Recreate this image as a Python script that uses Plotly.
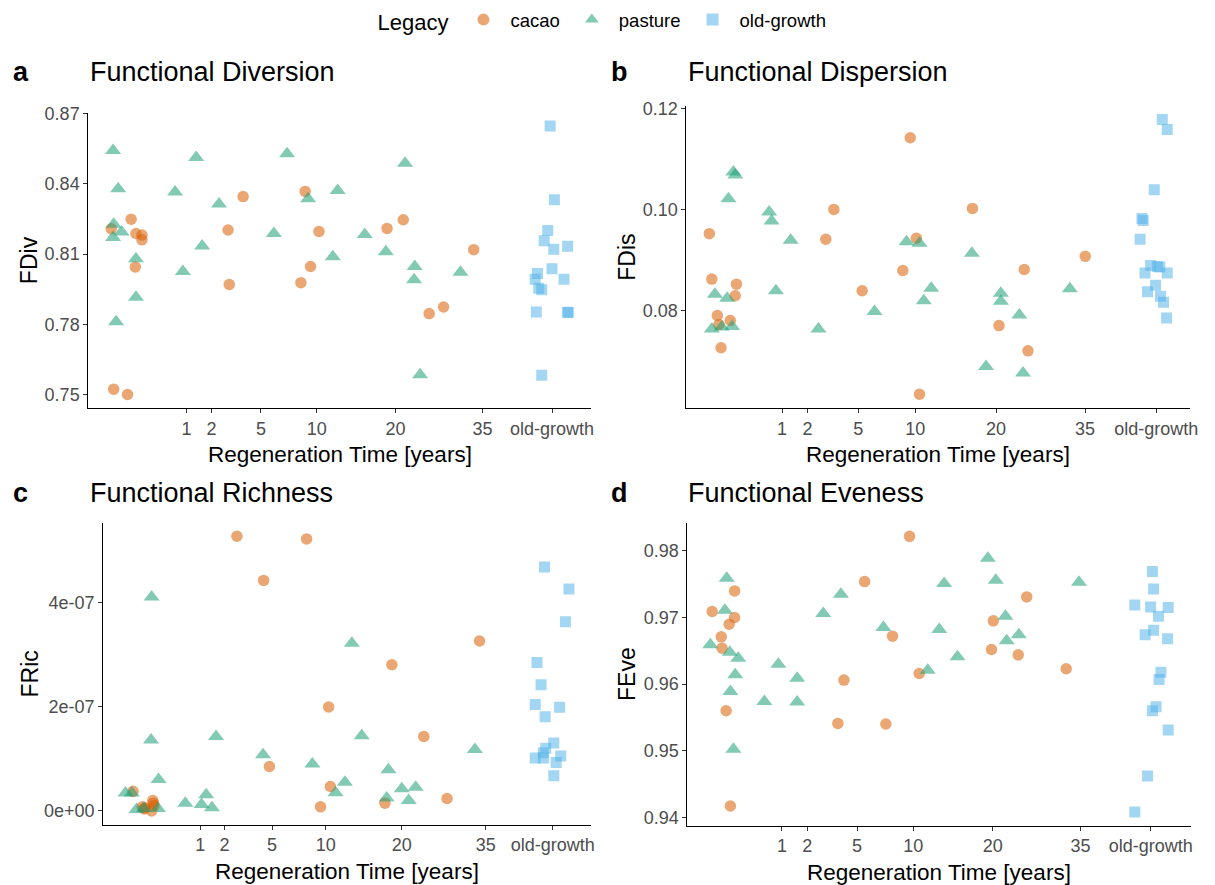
import numpy as np
import plotly.graph_objects as go

# x values are positions on the square-root time axis (sqrt(years), jittered as in the source);
# old-growth forests are placed at 50 years.
tick_years = [1, 2, 5, 10, 20, 35, 50]
tick_text = ["1", "2", "5", "10", "20", "35", "old-growth"]

# ---------------- Panel a: Functional Diversion ----------------
fdiv_cacao_x = [-0.25, 0.08, 0.16, 0.26, 0.26, 0.15, -0.21, 0.02, 1.69, 1.71, 1.94, 2.90, 2.97, 3.06, 3.20, 4.33, 4.60, 5.03, 5.27, 5.77]
fdiv_cacao_y = [0.8208, 0.8249, 0.8188, 0.8182, 0.8161, 0.8045, 0.7523, 0.7500, 0.8203, 0.7970, 0.8346, 0.7978, 0.8368, 0.8047, 0.8197, 0.8210, 0.8247, 0.7846, 0.7874, 0.8119]
fdiv_pasture_x = [-0.22, -0.135, -0.21, -0.08, -0.22, 0.16, 0.16, -0.17, 0.81, 0.94, 1.16, 1.26, 1.54, 2.45, 2.67, 3.02, 3.51, 3.43, 3.96, 4.31, 4.63, 4.79, 4.78, 4.88, 5.55]
fdiv_pasture_y = [0.8543, 0.8379, 0.8228, 0.8195, 0.8171, 0.8080, 0.7916, 0.7811, 0.8366, 0.8026, 0.8513, 0.8135, 0.8314, 0.8188, 0.8529, 0.8337, 0.8372, 0.8089, 0.8184, 0.8110, 0.8488, 0.8047, 0.7990, 0.7585, 0.8023]
fdiv_old_x = [7.04, 7.11, 7.00, 6.94, 7.10, 7.33, 7.07, 6.83, 6.79, 7.27, 6.85, 6.90, 6.81, 7.33, 7.34, 6.90]
fdiv_old_y = [0.8647, 0.8332, 0.8201, 0.8157, 0.8121, 0.8134, 0.8037, 0.8017, 0.7993, 0.7993, 0.7954, 0.7948, 0.7853, 0.7852, 0.7851, 0.7582]
fdiv_ticks = [0.75, 0.78, 0.81, 0.84, 0.87]
fdiv_ticktext = ["0.75", "0.78", "0.81", "0.84", "0.87"]

# ---------------- Panel b: Functional Dispersion ----------------
fdis_cacao_x = [-0.18, -0.14, -0.05, -0.025, 0.01, 0.16, 0.26, 0.24, 1.71, 1.84, 2.30, 2.96, 3.08, 3.18, 3.23, 4.09, 4.52, 4.93, 4.99, 5.92]
fdis_cacao_y = [0.0953, 0.0863, 0.0791, 0.0773, 0.0727, 0.0781, 0.0853, 0.0830, 0.0942, 0.1001, 0.0840, 0.0880, 0.1143, 0.0944, 0.0635, 0.1003, 0.0771, 0.0882, 0.0721, 0.0908]
fdis_pasture_x = [0.21, 0.24, 0.13, -0.09, 0.11, -0.14, 0.02, 0.19, 0.79, 0.83, 0.90, 1.14, 1.59, 2.50, 3.02, 3.23, 3.30, 3.42, 4.08, 4.31, 4.55, 4.55, 4.85, 4.91, 5.67]
fdis_pasture_y = [0.1075, 0.1069, 0.1022, 0.0833, 0.0825, 0.0764, 0.0768, 0.0769, 0.0996, 0.0978, 0.0840, 0.0940, 0.0764, 0.0799, 0.0937, 0.0934, 0.0820, 0.0845, 0.0914, 0.0690, 0.0835, 0.0819, 0.0792, 0.0677, 0.0844]
fdis_old_x = [7.17, 7.25, 7.04, 6.84, 6.86, 6.81, 6.89, 6.98, 7.09, 7.13, 7.25, 7.06, 6.93, 7.14, 7.19, 7.24]
fdis_old_y = [0.1179, 0.1159, 0.1040, 0.0983, 0.0979, 0.0942, 0.0875, 0.0890, 0.0888, 0.0887, 0.0875, 0.0851, 0.0838, 0.0829, 0.0817, 0.0786]
fdis_ticks = [0.08, 0.10, 0.12]
fdis_ticktext = ["0.08", "0.10", "0.12"]

# ---------------- Panel c: Functional Richness ----------------
fric_cacao_x = [-0.16, 0.00, 0.05, 0.18, 0.19, 0.16, 0.03, 0.20, 1.63, 2.83, 2.09, 2.19, 3.21, 3.24, 3.07, 4.18, 4.30, 4.85, 5.25, 5.81]
fric_cacao_y = [0.377e-07, 0.08e-07, 0.06e-07, 0.20e-07, 0.15e-07, 0.0, 0.04e-07, 0.10e-07, 5.275e-07, 5.225e-07, 4.427e-07, 0.854e-07, 1.997e-07, 0.471e-07, 0.08e-07, 0.15e-07, 2.807e-07, 1.432e-07, 0.24e-07, 3.265e-07]
fric_pasture_x = [-0.29, -0.18, -0.10, 0.03, 0.16, 0.15, 0.28, 0.27, 0.74, 1.02, 1.10, 1.20, 1.27, 2.08, 2.93, 3.33, 3.49, 3.61, 3.78, 4.21, 4.24, 4.47, 4.59, 4.71, 5.73]
fric_pasture_y = [0.345e-07, 0.345e-07, 0.03e-07, 0.05e-07, 4.107e-07, 1.363e-07, 0.603e-07, 0.05e-07, 0.15e-07, 0.126e-07, 0.31e-07, 0.063e-07, 1.43e-07, 1.08e-07, 0.904e-07, 0.35e-07, 0.553e-07, 3.22e-07, 1.444e-07, 0.25e-07, 0.79e-07, 0.427e-07, 0.20e-07, 0.458e-07, 1.18e-07]
fric_old_x = [6.93, 7.35, 7.29, 6.80, 6.87, 6.77, 7.19, 6.94, 7.09, 6.95, 6.91, 6.77, 6.91, 7.21, 7.13, 7.09]
fric_old_y = [4.685e-07, 4.264e-07, 3.636e-07, 2.851e-07, 2.424e-07, 2.047e-07, 1.99e-07, 1.809e-07, 1.306e-07, 1.206e-07, 1.118e-07, 1.017e-07, 1.017e-07, 1.055e-07, 0.929e-07, 0.678e-07]
fric_ticks = [0.0, 2e-07, 4e-07]
fric_ticktext = ["0e+00", "2e-07", "4e-07"]

# ---------------- Panel d: Functional Eveness ----------------
feve_cacao_x = [-0.15, 0.00, 0.013, 0.22, 0.22, 0.13, 0.08, 0.15, 1.92, 2.02, 2.36, 2.71, 2.82, 3.10, 3.26, 4.45, 4.48, 4.89, 5.03, 5.68]
feve_cacao_y = [0.9709, 0.9671, 0.9654, 0.9740, 0.9700, 0.9690, 0.9560, 0.9417, 0.9541, 0.9606, 0.9754, 0.9540, 0.9672, 0.9822, 0.9616, 0.9652, 0.9695, 0.9644, 0.9731, 0.9623]
feve_pasture_x = [-0.18, 0.09, 0.06, 0.14, 0.28, 0.23, 0.15, 0.20, 0.71, 0.94, 1.25, 1.25, 1.68, 1.97, 2.67, 3.40, 3.59, 3.67, 3.89, 4.39, 4.52, 4.68, 4.70, 4.90, 5.89]
feve_pasture_y = [0.9659, 0.9759, 0.9711, 0.9648, 0.9639, 0.9614, 0.9589, 0.9502, 0.9574, 0.9630, 0.9609, 0.9573, 0.9706, 0.9735, 0.9685, 0.9621, 0.9682, 0.9751, 0.9641, 0.9789, 0.9756, 0.9702, 0.9665, 0.9674, 0.9753]
feve_old_x = [6.81, 7.10, 7.12, 7.07, 7.36, 7.20, 6.98, 7.12, 7.35, 7.24, 7.21, 7.16, 7.10, 7.36, 7.02, 6.81]
feve_old_y = [0.9719, 0.9769, 0.9743, 0.9716, 0.9715, 0.9702, 0.9674, 0.9681, 0.9668, 0.9618, 0.9607, 0.9566, 0.9560, 0.9531, 0.9462, 0.9408]
feve_ticks = [0.94, 0.95, 0.96, 0.97, 0.98]
feve_ticktext = ["0.94", "0.95", "0.96", "0.97", "0.98"]

legacy_names = ["cacao", "pasture", "old-growth"]
legacy_colors = {"cacao": "#D95F02", "pasture": "#1B9E77", "old-growth": "#56B4E9"}
legacy_symbols = {"cacao": "circle", "pasture": "triangle-up", "old-growth": "square"}
legacy_sizes = {"cacao": 11.5, "pasture": 14, "old-growth": 11}

panels = [
    dict(letter="a", title="Functional Diversion", ylab="FDiv",
         data={"cacao": (fdiv_cacao_x, fdiv_cacao_y), "pasture": (fdiv_pasture_x, fdiv_pasture_y), "old-growth": (fdiv_old_x, fdiv_old_y)},
         yt=fdiv_ticks, ytt=fdiv_ticktext, px=(89, 595), py=(105, 404), ty=64),
    dict(letter="b", title="Functional Dispersion", ylab="FDis",
         data={"cacao": (fdis_cacao_x, fdis_cacao_y), "pasture": (fdis_pasture_x, fdis_pasture_y), "old-growth": (fdis_old_x, fdis_old_y)},
         yt=fdis_ticks, ytt=fdis_ticktext, px=(691, 1198), py=(98, 404), ty=64),
    dict(letter="c", title="Functional Richness", ylab="FRic",
         data={"cacao": (fric_cacao_x, fric_cacao_y), "pasture": (fric_pasture_x, fric_pasture_y), "old-growth": (fric_old_x, fric_old_y)},
         yt=fric_ticks, ytt=fric_ticktext, px=(104, 595), py=(520, 826), ty=490),
    dict(letter="d", title="Functional Eveness", ylab="FEve",
         data={"cacao": (feve_cacao_x, feve_cacao_y), "pasture": (feve_pasture_x, feve_pasture_y), "old-growth": (feve_old_x, feve_old_y)},
         yt=feve_ticks, ytt=feve_ticktext, px=(692, 1199), py=(520, 827), ty=490),
]

W, H = 1215, 885
FONT = "Liberation Sans, Arial, Helvetica, sans-serif"
fig = go.Figure()
annotations = []
layout_axes = {}

for i, p in enumerate(panels):
    n = i + 1
    xa = "x" if n == 1 else f"x{n}"
    ya = "y" if n == 1 else f"y{n}"
    allx, ally = [], []
    for name in legacy_names:
        xs, ys = p["data"][name]
        allx += list(xs)
        ally += list(ys)
        fig.add_trace(go.Scatter(
            x=xs, y=ys, mode="markers", name=name, legendgroup=name,
            showlegend=(n == 1), xaxis=xa, yaxis=ya,
            marker=dict(symbol=legacy_symbols[name], size=legacy_sizes[name],
                        color=legacy_colors[name], opacity=0.55, line=dict(width=0)),
        ))
    xmin, xmax = min(allx), max(allx)
    ymin, ymax = min(ally), max(ally)
    xr = [xmin - 0.05 * (xmax - xmin), xmax + 0.05 * (xmax - xmin)]
    yr = [ymin - 0.05 * (ymax - ymin), ymax + 0.05 * (ymax - ymin)]
    x0, x1 = p["px"]
    y0, y1 = p["py"]
    axis_common = dict(showgrid=False, zeroline=False, showline=True, linecolor="black", linewidth=1.3,
                       ticks="outside", ticklen=4, tickwidth=1.2, tickcolor="#333333",
                       tickfont=dict(family=FONT, size=18, color="#4D4D4D"))
    layout_axes["xaxis" if n == 1 else f"xaxis{n}"] = dict(
        axis_common, domain=[x0 / W, x1 / W], range=xr, anchor=ya, ticklabelstandoff=0,
        tickmode="array", tickvals=list(np.sqrt(tick_years)), ticktext=tick_text)
    layout_axes["yaxis" if n == 1 else f"yaxis{n}"] = dict(
        axis_common, domain=[1 - y1 / H, 1 - y0 / H], range=yr, anchor=xa,
        tickmode="array", tickvals=p["yt"], ticktext=p["ytt"])
    # panel letter and title
    lx = 11 if x0 < 600 else 613
    tx = 89 if x0 < 600 else 691
    annotations.append(dict(text=f"<b>{p['letter']}</b>", x=lx / W, y=1 - p["ty"] / H, xref="paper", yref="paper",
                            xanchor="left", yanchor="middle", showarrow=False,
                            font=dict(family=FONT, size=27, color="black")))
    annotations.append(dict(text=p["title"], x=tx / W, y=1 - p["ty"] / H, xref="paper", yref="paper",
                            xanchor="left", yanchor="middle", showarrow=False,
                            font=dict(family=FONT, size=27, color="black")))
    # axis titles
    annotations.append(dict(text="Regeneration Time [years]", x=(x0 + x1) / 2 / W, y=1 - (y1 + 47) / H,
                            xref="paper", yref="paper", xanchor="center", yanchor="middle", showarrow=False,
                            font=dict(family=FONT, size=22.5, color="black")))
    ylx = 30 if x0 < 600 else 631
    annotations.append(dict(text=p["ylab"], x=ylx / W, y=1 - (y0 + y1) / 2 / H, xref="paper", yref="paper",
                            xanchor="center", yanchor="middle", textangle=-90, showarrow=False,
                            font=dict(family=FONT, size=23, color="black")))

fig.update_layout(
    width=W, height=H, margin=dict(l=0, r=0, t=0, b=0),
    plot_bgcolor="white", paper_bgcolor="white",
    font=dict(family=FONT, color="black"),
    annotations=annotations,
    legend=dict(orientation="h", x=0.5, xanchor="center", y=1 + 8 / H, yanchor="top",
                title=dict(text="Legacy", font=dict(family=FONT, size=22, color="black"), side="left"),
                font=dict(family=FONT, size=18.5, color="black"), itemsizing="constant", itemwidth=44,
                bgcolor="rgba(0,0,0,0)"),
    **layout_axes,
)

fig.write_html("out.html")
